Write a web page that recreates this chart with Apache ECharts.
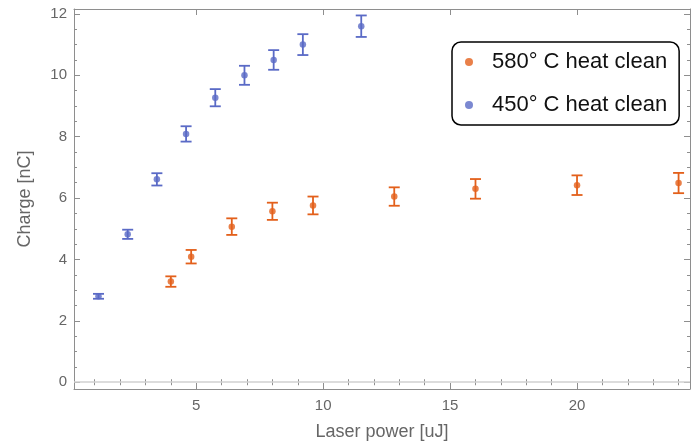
<!DOCTYPE html>
<html>
<head>
<meta charset="utf-8">
<script src="https://cdn.jsdelivr.net/npm/echarts@6/dist/echarts.min.js"></script>
<style>html,body{margin:0;padding:0;background:#fff}#c{width:696px;height:448px}</style>
</head>
<body>
<div id="c"></div>
<script>
const seriesNames = ['580\u00B0 C heat clean', '450\u00B0 C heat clean'];
const orangeX = [4, 4.8, 6.4, 8, 9.6, 12.8, 16, 20, 24];
const orangeY = [3.28, 4.09, 5.07, 5.57, 5.76, 6.05, 6.30, 6.42, 6.49];
const orangeErr = [0.17, 0.22, 0.27, 0.28, 0.29, 0.30, 0.32, 0.32, 0.33];
const blueX = [1.15, 2.3, 3.45, 4.6, 5.75, 6.9, 8.05, 9.2, 11.5];
const blueY = [2.80, 4.82, 6.61, 8.09, 9.27, 10.0, 10.5, 11.0, 11.6];
const blueErr = [0.08, 0.15, 0.20, 0.25, 0.28, 0.31, 0.32, 0.34, 0.35];
const xTicks = [5, 10, 15, 20];
const yTicks = [0, 2, 4, 6, 8, 10, 12];

const ORANGE = '#E3601B';
const BLUE = '#5A6AC6';
const FRAME = '#8e8e8e';
const LABEL = '#666666';
const FONT = 'Liberation Sans, Arial, sans-serif';

const xMin = 0.185, xMax = 24.45, yMin = -0.22, yMax = 12.16;
const xMinor = [];
for (let v = 1; v <= 24; v++) if (v % 5 !== 0) xMinor.push(v);
const yMinor = [];
for (let v = 0.5; v < 12; v += 0.5) if (v % 2 !== 0) yMinor.push(v);

function axisBase(extra) {
  return Object.assign({
    type: 'value', splitLine: {show: false},
    axisLine: {show: true, onZero: false, lineStyle: {color: FRAME, width: 1}},
    axisLabel: {show: false}
  }, extra);
}
const tickStyle = {color: FRAME, width: 1};
const xAxes = [
  axisBase({position: 'bottom', min: xMin, max: xMax,
    axisTick: {show: true, inside: true, length: 6, customValues: xTicks, lineStyle: tickStyle},
    axisLabel: {show: true, customValues: xTicks, color: LABEL, fontSize: 15, fontFamily: FONT, margin: 9},
    name: 'Laser power [uJ]', nameLocation: 'middle', nameGap: 34,
    nameTextStyle: {color: LABEL, fontSize: 18, fontFamily: FONT}}),
  axisBase({position: 'bottom', min: xMin, max: xMax, axisLine: {show: false},
    axisTick: {show: true, inside: true, length: 3, customValues: xMinor, lineStyle: tickStyle}}),
  axisBase({position: 'top', min: xMin, max: xMax,
    axisTick: {show: true, inside: true, length: 6, customValues: xTicks, lineStyle: tickStyle}}),
  axisBase({position: 'top', min: xMin, max: xMax, axisLine: {show: false},
    axisTick: {show: true, inside: true, length: 3, customValues: xMinor, lineStyle: tickStyle}})
];
const yAxes = [
  axisBase({position: 'left', min: yMin, max: yMax,
    axisTick: {show: true, inside: true, length: 6, customValues: yTicks, lineStyle: tickStyle},
    axisLabel: {show: true, customValues: yTicks, color: LABEL, fontSize: 15, fontFamily: FONT, margin: 7},
    name: 'Charge [nC]', nameLocation: 'middle', nameGap: 40,
    nameTextStyle: {color: LABEL, fontSize: 18, fontFamily: FONT}}),
  axisBase({position: 'left', min: yMin, max: yMax, axisLine: {show: false},
    axisTick: {show: true, inside: true, length: 3, customValues: yMinor, lineStyle: tickStyle}}),
  axisBase({position: 'right', min: yMin, max: yMax,
    axisTick: {show: true, inside: true, length: 6, customValues: yTicks, lineStyle: tickStyle}}),
  axisBase({position: 'right', min: yMin, max: yMax, axisLine: {show: false},
    axisTick: {show: true, inside: true, length: 3, customValues: yMinor, lineStyle: tickStyle}})
];

function errData(xs, ys, es) {
  return xs.map((x, i) => [x, ys[i] - es[i], ys[i] + es[i]]);
}
function errSeries(name, color, data) {
  return {
    type: 'custom', name: name, data: data, z: 3, silent: true,
    encode: {x: 0, y: [1, 2]},
    renderItem: function (params, api) {
      const lo = api.coord([api.value(0), api.value(1)]);
      const hi = api.coord([api.value(0), api.value(2)]);
      const hw = 5.5;
      const st = {stroke: color, lineWidth: 1.8, fill: null};
      return {type: 'group', children: [
        {type: 'line', shape: {x1: lo[0], y1: lo[1], x2: hi[0], y2: hi[1]}, style: st},
        {type: 'line', shape: {x1: lo[0] - hw, y1: lo[1], x2: lo[0] + hw, y2: lo[1]}, style: st},
        {type: 'line', shape: {x1: hi[0] - hw, y1: hi[1], x2: hi[0] + hw, y2: hi[1]}, style: st}
      ]};
    }
  };
}

const chart = echarts.init(document.getElementById('c'), null, {renderer: 'canvas'});
chart.setOption({
  animation: false,
  grid: {left: 74, right: 6, top: 9, bottom: 59, containLabel: false},
  xAxis: xAxes,
  yAxis: yAxes,
  legend: {
    orient: 'vertical', left: 452, top: 42,
    data: seriesNames.map(n => ({name: n, icon: 'circle'})),
    itemWidth: 8, itemHeight: 8, itemGap: 21,
    padding: [9, 12, 9, 13],
    borderColor: '#000', borderWidth: 1.5, borderRadius: 9,
    backgroundColor: '#fff',
    textStyle: {color: '#111', fontSize: 22, fontFamily: FONT, padding: [0, 0, 0, 14]}
  },
  series: [
    {type: 'scatter', name: seriesNames[0], symbol: 'circle', symbolSize: 6.5, z: 4,
      itemStyle: {color: ORANGE}, data: orangeX.map((x, i) => [x, orangeY[i]]),
      markLine: {silent: true, symbol: 'none', label: {show: false},
        lineStyle: {color: '#d0d0d0', width: 1.5, type: 'solid'}, data: [{yAxis: 0}]}},
    {type: 'scatter', name: seriesNames[1], symbol: 'circle', symbolSize: 6.5, z: 4,
      itemStyle: {color: BLUE}, data: blueX.map((x, i) => [x, blueY[i]])},
    errSeries(seriesNames[0], ORANGE, errData(orangeX, orangeY, orangeErr)),
    errSeries(seriesNames[1], BLUE, errData(blueX, blueY, blueErr))
  ]
});
</script>
</body>
</html>
